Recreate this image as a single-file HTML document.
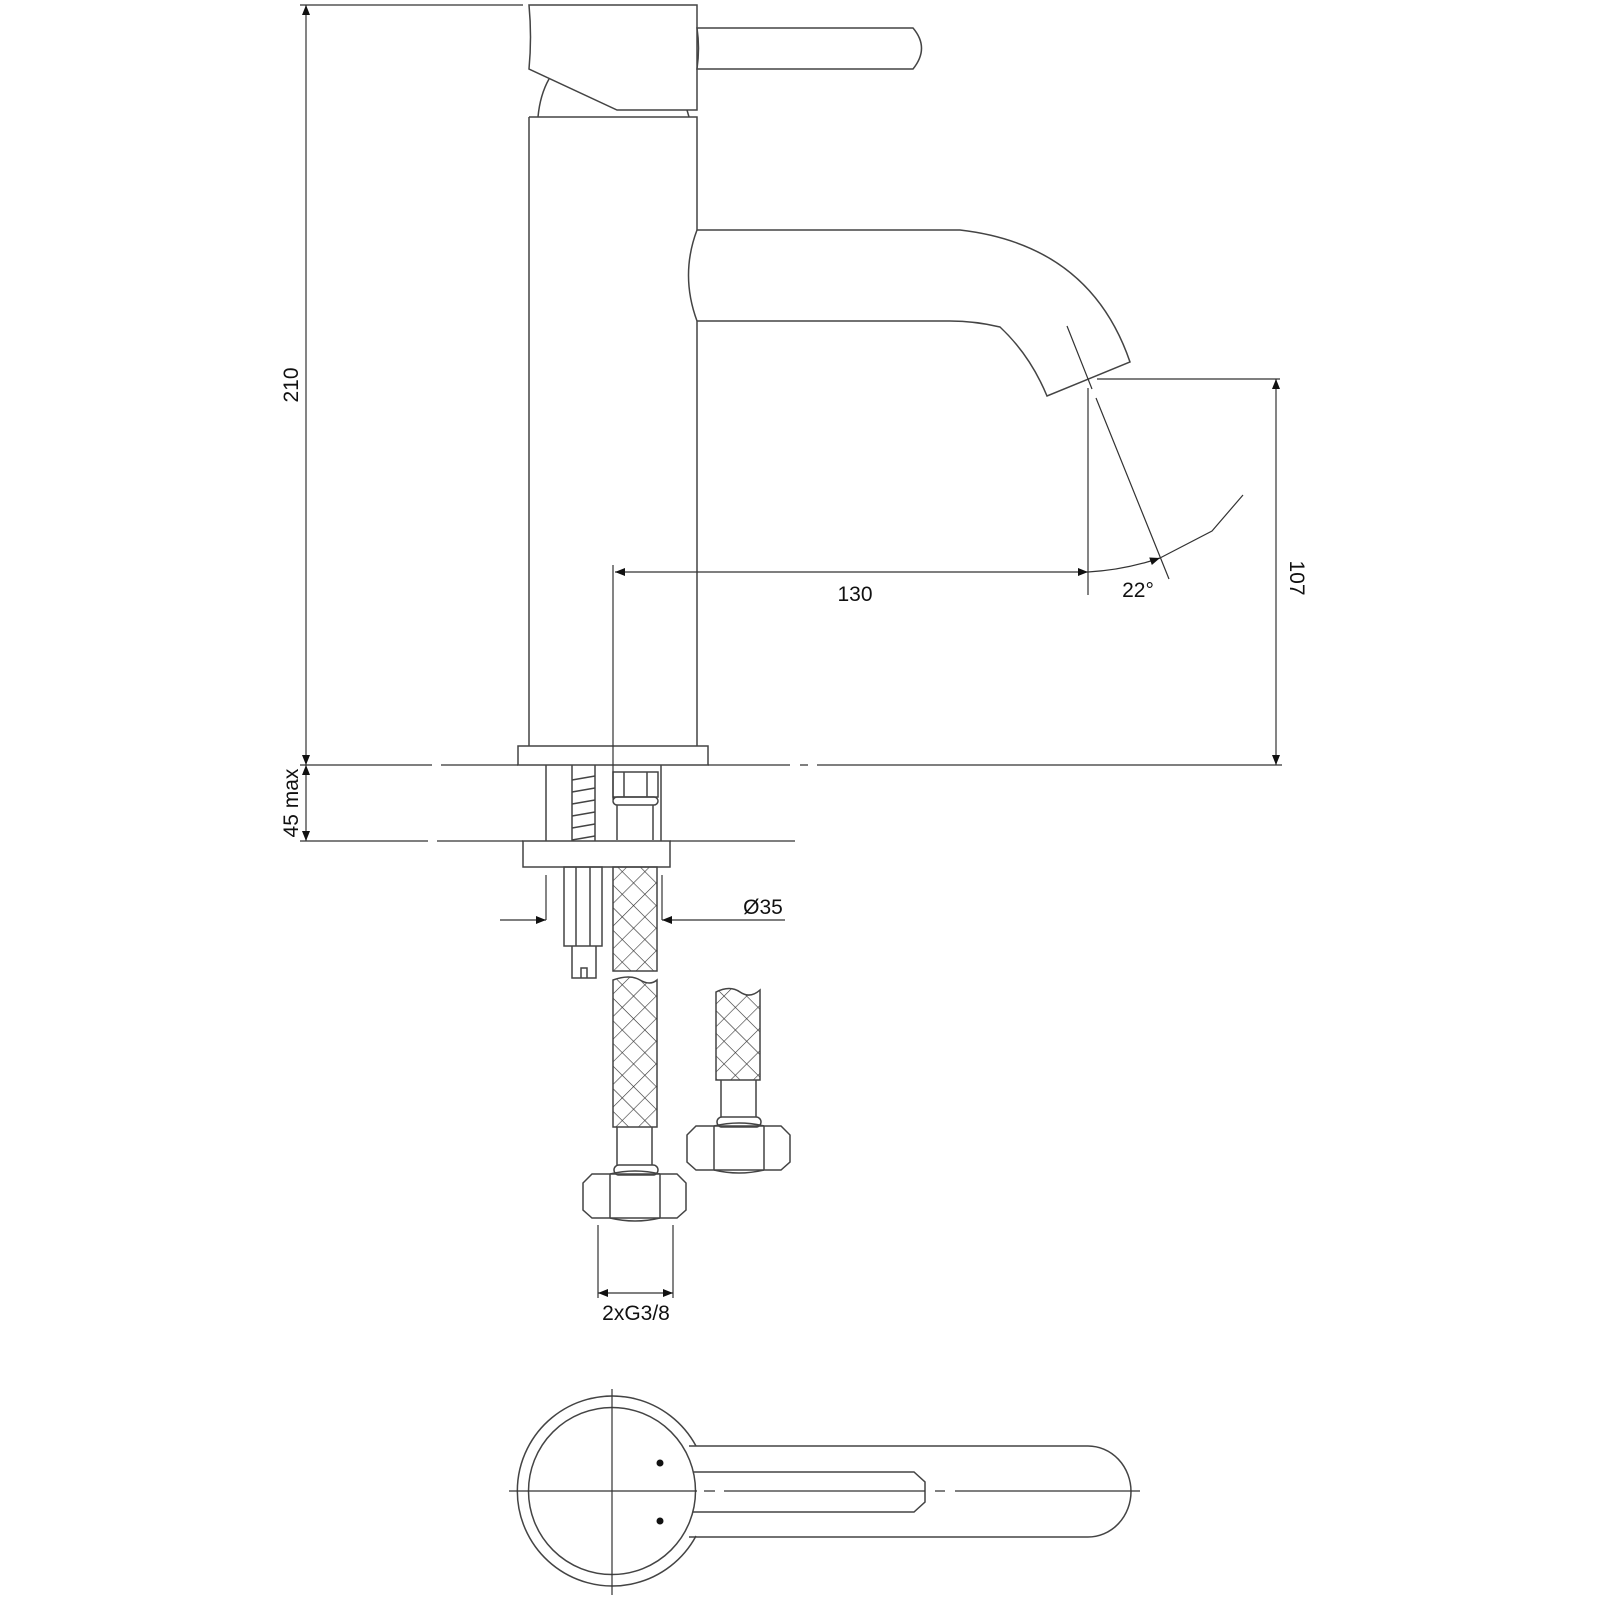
<!DOCTYPE html>
<html><head><style>body{margin:0;background:#fff}svg{display:block}</style></head><body>
<svg width="1600" height="1600" viewBox="0 0 1600 1600" xmlns="http://www.w3.org/2000/svg" font-family="Liberation Sans, sans-serif">
<defs>
<pattern id="h" width="16" height="16" patternUnits="userSpaceOnUse" patternTransform="rotate(45)"><path d="M0 0H16M0 0V16" stroke="#333" stroke-width="1.2"/></pattern>
<marker id="a" viewBox="0 0 10 10" refX="10" refY="5" markerWidth="18" markerHeight="10" markerUnits="userSpaceOnUse" orient="auto-start-reverse"><path d="M0 1L10 5L0 9Z" fill="#111"/></marker>
</defs>
<g fill="none" stroke="#444" stroke-width="1.5">
<path d="M529 5H697V110H617L529 69Q532 37 529 5Z"/>
<path d="M697 28H913Q930 48 913 69H697Q700 48 697 28Z"/>
<path d="M549 79Q540 95 538 117M687 110L689 117"/>
<path d="M529 117H697V230M529 117V746M697 321V746"/>
<path d="M697 230H960Q1090 245 1130 362L1047 396Q1030 355 1000 327Q975 321 950 321H697"/>
<path d="M697 230Q680 275 697 321"/>
<rect x="518" y="746" width="190" height="19"/>
<path d="M546 765V841M661 765V841M572 765V841M595 765V841"/>
<path d="M572 780L595 776M572 792L595 788M572 804L595 800M572 816L595 812M572 828L595 824M572 840L595 836"/>
<path d="M613 772H658V797H613ZM624 772V797M647 772V797"/>
<rect x="613" y="797" width="45" height="8" rx="4"/>
<path d="M617 805V840M653 805V840"/>
<rect x="523" y="841" width="147" height="26"/>
<rect x="564" y="867" width="38" height="79"/>
<path d="M576 867V946M590 867V946"/>
<path d="M572 946V978H596V946M581 978V968H587V978"/>
<rect x="613" y="867" width="44" height="104" fill="url(#h)"/>
<path d="M613 980Q630 974 640 980T657 980V1127H613Z" fill="url(#h)"/>
<path d="M617 1127V1165M652 1127V1165"/>
<rect x="614" y="1165" width="44" height="10" rx="5"/>
<path d="M583 1183L592 1174H677L686 1183V1210L677 1218H592L583 1210Z"/>
<path d="M610 1174V1218M660 1174V1218M610 1174Q635 1168 660 1174M610 1218Q635 1224 660 1218"/>
<path d="M716 992Q730 985 740 992T760 990V1080H716Z" fill="url(#h)"/>
<path d="M721 1080V1117M756 1080V1117"/>
<rect x="717" y="1117" width="44" height="10" rx="5"/>
<path d="M687 1135L696 1126H781L790 1135V1162L781 1170H696L687 1162Z"/>
<path d="M714 1126V1170M764 1126V1170M714 1126Q739 1120 764 1126M714 1170Q739 1176 764 1170"/>
<path d="M696 1446A95 95 0 1 0 696 1536"/>
<circle cx="612" cy="1491" r="83.5"/>
<path d="M689 1446H1088A43 45.5 0 0 1 1088 1537H689"/>
<path d="M693 1472H914L925 1482V1502L914 1512H693"/>
</g>
<g stroke="#333" stroke-width="1.2" fill="none">
<path d="M509 1491H697M704 1491H715M724 1491H925M935 1491H945M955 1491H1140"/>
<path d="M612 1389V1595"/>
<path d="M613 565V800"/>
<path d="M300 5H523"/>
<path d="M306 5V765" marker-start="url(#a)" marker-end="url(#a)"/>
<path d="M306 765V841" marker-start="url(#a)" marker-end="url(#a)"/>
<path d="M300 765H432M441 765H518M708 765H790M800 765H808M817 765H1282"/>
<path d="M300 841H428M437 841H523M670 841H795"/>
<path d="M1097 379H1280"/>
<path d="M1276 379V765" marker-start="url(#a)" marker-end="url(#a)"/>
<path d="M615 572H1088" marker-start="url(#a)" marker-end="url(#a)"/>
<path d="M1088 388V595"/>
<path d="M1067 326L1092 389M1096 398L1169 579"/>
<path d="M1088 572Q1125 570 1160 558" marker-end="url(#a)"/>
<path d="M1160 558L1212 531L1243 495"/>
<path d="M500 920H546" marker-end="url(#a)"/>
<path d="M546 875V920"/>
<path d="M785 920H662" marker-end="url(#a)"/>
<path d="M662 875V920"/>
<path d="M598 1225V1298M673 1225V1298"/>
<path d="M598 1293H673" marker-start="url(#a)" marker-end="url(#a)"/>
</g>
<circle cx="660" cy="1463" r="3.5" fill="#111"/>
<circle cx="660" cy="1521" r="3.5" fill="#111"/>
<g font-size="21" fill="#111">
<text x="855" y="601" text-anchor="middle">130</text>
<text x="1138" y="597" text-anchor="middle">22°</text>
<text x="763" y="914" text-anchor="middle">Ø35</text>
<text x="636" y="1320" text-anchor="middle">2xG3/8</text>
<text transform="translate(298 385) rotate(-90)" text-anchor="middle">210</text>
<text transform="translate(298 803) rotate(-90)" text-anchor="middle">45 max</text>
<text transform="translate(1290 578) rotate(90)" text-anchor="middle">107</text>
</g>
</svg>
</body></html>
